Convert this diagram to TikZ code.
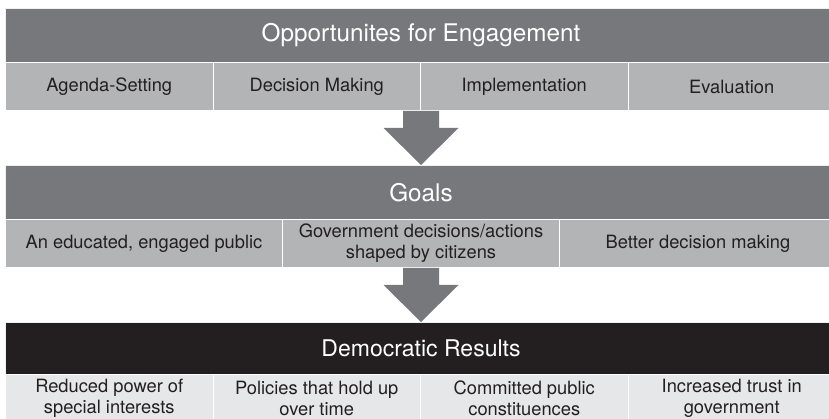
\documentclass[tikz,border=0pt]{standalone}
\usepackage{fontspec}
\setmainfont{TeX Gyre Heros}
\usetikzlibrary{calc}
\definecolor{bandgray}{HTML}{77787B}
\definecolor{cellgray}{HTML}{B3B4B6}
\definecolor{bandblack}{HTML}{231F20}
\definecolor{celllight}{HTML}{E6E7E8}
\definecolor{inkdark}{HTML}{231F20}
\tikzset{
	band/.style={
			draw=black!6, line width=1pt, fill=bandgray, text=white,
			minimum width=831pt, minimum height=54pt, inner sep=0pt,
			anchor=north west, font=\fontsize{24.3}{27}\selectfont
		},
	cell/.style={
			draw=white, line width=1pt, fill=cellgray, text=inkdark,
			minimum width=#1, minimum height=48pt, inner sep=0pt, align=center,
			anchor=north west, font=\fontsize{18.3}{21}\selectfont
		},
	flow/.style={fill=bandgray}
}

\begin{document}
\begin{tikzpicture}[x=1pt, y=-1pt]
		\useasboundingbox (0,0) rectangle (829,419);
		% Opportunities row
		\node[band] (opp) at (5,8) {Opportunites for Engagement};
		\node[cell=207.5pt] (agenda) at (5,62) {Agenda-Setting};
		\node[cell=207.5pt] (decide) at (212.5,62) {Decision Making};
		\node[cell=207.5pt] (implement) at (420,62) {Implementation};
		\node[cell=207.5pt] (evaluate) at (627.5,62) {Evaluation};
		% Goals row
		\node[band] (goals) at (5,165) {Goals};
		\node[cell=277pt] (educated) at (5,219) {An educated, engaged public};
		\node[cell=277pt] (shaped) at (282,219) {Government decisions/actions\\shaped by citizens};
		\node[cell=277pt] (better) at (559,219) {Better decision making};
		% Results row
		\node[band, fill=bandblack, minimum height=52pt, font=\fontsize{23}{26}\selectfont] (demo) at (5,322) {Democratic Results};
		\node[cell=207.5pt, fill=celllight] (reduced) at (5,374) {Reduced power of\\special interests};
		\node[cell=207.5pt, fill=celllight] (policies) at (212.5,374) {Policies that hold up\\over time};
		\node[cell=207.5pt, fill=celllight] (committed) at (420,374) {Committed public\\constituences};
		\node[cell=207.5pt, fill=celllight] (trust) at (627.5,374) {Increased trust in\\government};
		% Block arrows between the rows
		\foreach \from/\to in {decide.south east/goals.north, shaped.south/demo.north}
			\fill[flow] ($(\from)+(-18,0)$) -- ($(\from)+(18,0)$) -- ($(\from)+(18,17)$)
			-- ($(\from)+(37.5,17)$) -- (\to) -- ($(\from)+(-37.5,17)$)
			-- ($(\from)+(-18,17)$) -- cycle;
	\end{tikzpicture}
\end{document}
